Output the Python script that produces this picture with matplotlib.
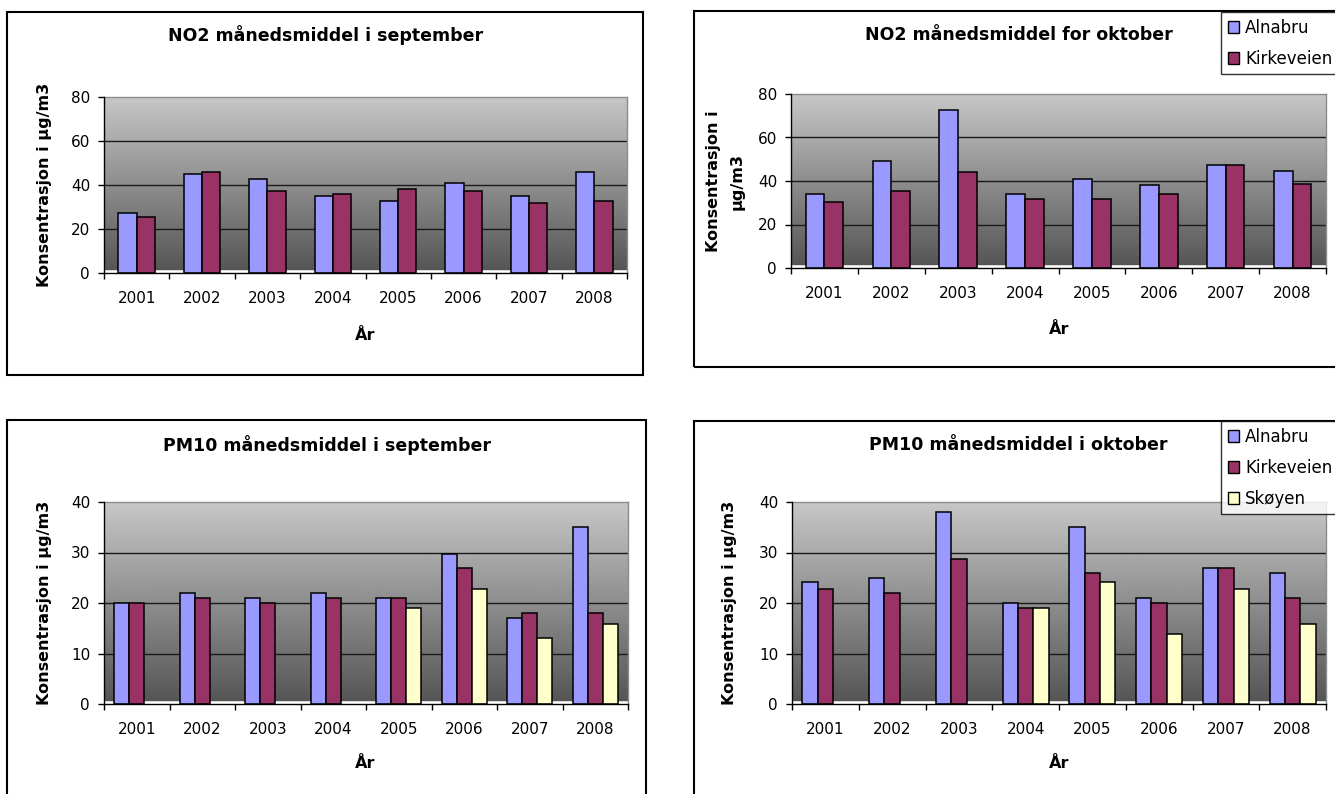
"""
Månedsmiddel NO2 og PM10 for september og oktober, 2001-2008
Fire stolpediagram i Excel-stil med grå gradientbakgrunn
"""

import matplotlib
matplotlib.use('Agg')
import matplotlib.pyplot as plt
import numpy as np
from matplotlib.patches import Rectangle

W, H = 1335, 794

# Data lest av figuren
years = ['2001', '2002', '2003', '2004', '2005', '2006', '2007', '2008']

no2_sep_alnabru = [27.3, 45.2, 42.6, 34.8, 32.6, 41.1, 34.8, 45.8]
no2_sep_kirkeveien = [25.5, 45.8, 37.1, 35.8, 38.0, 37.1, 32.0, 32.6]

no2_okt_alnabru = [34.0, 49.3, 72.8, 34.0, 41.1, 38.0, 47.2, 44.8]
no2_okt_kirkeveien = [30.2, 35.6, 44.1, 31.9, 31.9, 34.0, 47.2, 38.8]

pm10_sep_alnabru = [20.0, 21.9, 20.9, 21.9, 20.9, 29.8, 17.1, 35.0]
pm10_sep_kirkeveien = [20.0, 20.9, 20.0, 20.9, 20.9, 26.9, 18.0, 18.0]
pm10_sep_skoyen = [None, None, None, None, 19.0, 22.8, 13.0, 15.8]

pm10_okt_alnabru = [24.1, 25.0, 38.1, 20.0, 35.0, 20.9, 26.9, 26.0]
pm10_okt_kirkeveien = [22.8, 21.9, 28.8, 19.0, 26.0, 20.0, 26.9, 20.9]
pm10_okt_skoyen = [None, None, None, 19.0, 24.1, 13.9, 22.8, 15.8]

series_names = ['Alnabru', 'Kirkeveien', 'Skøyen']
series_colors = ['#9999FF', '#993366', '#FFFFCC']

plt.rcParams['font.family'] = ['DejaVu Sans']


def fx(x):
    return x / W


def fy(y):
    return 1 - y / H


def add_box(fig, x0, y0, x1, y1):
    # Ramme rundt hvert diagram
    fig.patches.append(Rectangle((fx(x0), fy(y1)), (x1 - x0) / W, (y1 - y0) / H,
                                 transform=fig.transFigure, fill=False,
                                 edgecolor='black', linewidth=1.5, zorder=0))


def draw_chart(fig, rect, series, ymax, step):
    x0, y0, x1, y1 = rect
    ax = fig.add_axes([fx(x0), fy(y1), (x1 - x0) / W, (y1 - y0) / H])
    n = len(series)
    width = 0.28 if n == 2 else 0.23
    offsets = (np.arange(n) - (n - 1) / 2) * width
    xs = np.arange(len(years))

    # Gradientbakgrunn
    grad = np.linspace(0.78, 0.33, 256).reshape(-1, 1)
    ax.imshow(grad, extent=[-0.5, len(years) - 0.5, 0, ymax], aspect='auto',
              cmap='gray', vmin=0, vmax=1, zorder=0, interpolation='bilinear')
    ax.axhline(0, color='white', linewidth=4, zorder=1)

    for yv in np.arange(step, ymax, step):
        ax.axhline(yv, color='#1a1a1a', linewidth=1.0, zorder=1.5)

    for i, vals in enumerate(series):
        idx = [k for k, v in enumerate(vals) if v is not None]
        ax.bar(xs[idx] + offsets[i], [vals[k] for k in idx], width=width,
               color=series_colors[i], edgecolor='black', linewidth=1.1, zorder=3)

    ax.set_xlim(-0.5, len(years) - 0.5)
    ax.set_ylim(0, ymax)

    ax.set_xticks(np.arange(len(years) + 1) - 0.5)
    ax.set_xticklabels([])
    ax.set_xticks(xs, minor=True)
    ax.set_xticklabels(years, minor=True, fontsize=11)
    ax.tick_params(axis='x', which='major', direction='out', length=4, width=1, color='black')
    ax.tick_params(axis='x', which='minor', length=0, pad=13)

    ax.set_yticks(np.arange(0, ymax + 1, step))
    ax.tick_params(axis='y', direction='out', length=4, width=1, pad=6, labelsize=11)

    for side in ['top', 'right']:
        ax.spines[side].set_color('#8c8c8c')
        ax.spines[side].set_linewidth(1.0)
    for side in ['left', 'bottom']:
        ax.spines[side].set_color('black')
        ax.spines[side].set_linewidth(1.0)
        ax.spines[side].set_zorder(4)
    return ax


def add_legend(fig, n, x, y):
    handles = [Rectangle((0, 0), 1, 1, facecolor=series_colors[i], edgecolor='black',
                         linewidth=1.0) for i in range(n)]
    leg = fig.legend(handles, series_names[:n], loc='upper left',
                     bbox_to_anchor=(fx(x), fy(y)), bbox_transform=fig.transFigure,
                     fontsize=12, frameon=True, fancybox=False, borderaxespad=0,
                     borderpad=0.4, handlelength=0.7, handleheight=0.7,
                     handletextpad=0.35, labelspacing=0.78)
    leg.get_frame().set_edgecolor('black')
    leg.get_frame().set_linewidth(1.0)
    return leg


fig = plt.figure(figsize=(W / 100, H / 100), dpi=100)
fig.patch.set_facecolor('white')

add_box(fig, 7, 12, 643, 375)
add_box(fig, 694, 11, 1345, 367)
add_box(fig, 7, 420, 646, 805)
add_box(fig, 694, 421, 1345, 805)

# Diagram 1: NO2 september
draw_chart(fig, (104, 97, 627, 273), [no2_sep_alnabru, no2_sep_kirkeveien], 80, 20)
fig.text(fx(326), fy(35), 'NO2 månedsmiddel i september', ha='center', va='center',
         fontsize=12.5, fontweight='bold')
fig.text(fx(45), fy(185), 'Konsentrasjon i µg/m3', rotation=90, ha='center', va='center',
         fontsize=11.5, fontweight='bold')
fig.text(fx(365), fy(335), 'År', ha='center', va='center', fontsize=11.5, fontweight='bold')

# Diagram 2: NO2 oktober
draw_chart(fig, (791, 94, 1326, 268), [no2_okt_alnabru, no2_okt_kirkeveien], 80, 20)
fig.text(fx(1019), fy(35), 'NO2 månedsmiddel for oktober', ha='center', va='center',
         fontsize=12.5, fontweight='bold')
fig.text(fx(725), fy(181), 'Konsentrasjon i\nµg/m3', rotation=90, ha='center', va='center',
         multialignment='center', linespacing=1.7, fontsize=11.5, fontweight='bold')
fig.text(fx(1059), fy(330), 'År', ha='center', va='center', fontsize=11.5, fontweight='bold')
add_legend(fig, 2, 1221, 12)

# Diagram 3: PM10 september
draw_chart(fig, (104, 502, 628, 704),
           [pm10_sep_alnabru, pm10_sep_kirkeveien, pm10_sep_skoyen], 40, 10)
fig.text(fx(327), fy(445), 'PM10 månedsmiddel i september', ha='center', va='center',
         fontsize=12.5, fontweight='bold')
fig.text(fx(45), fy(603), 'Konsentrasjon i µg/m3', rotation=90, ha='center', va='center',
         fontsize=11.5, fontweight='bold')
fig.text(fx(365), fy(763), 'År', ha='center', va='center', fontsize=11.5, fontweight='bold')

# Diagram 4: PM10 oktober
draw_chart(fig, (792, 502, 1326, 704),
           [pm10_okt_alnabru, pm10_okt_kirkeveien, pm10_okt_skoyen], 40, 10)
fig.text(fx(1018), fy(445), 'PM10 månedsmiddel i oktober', ha='center', va='center',
         fontsize=12.5, fontweight='bold')
fig.text(fx(729), fy(603), 'Konsentrasjon i µg/m3', rotation=90, ha='center', va='center',
         fontsize=11.5, fontweight='bold')
fig.text(fx(1059), fy(763), 'År', ha='center', va='center', fontsize=11.5, fontweight='bold')
add_legend(fig, 3, 1221, 421)

fig.savefig('out.png', dpi=100, facecolor='white')
